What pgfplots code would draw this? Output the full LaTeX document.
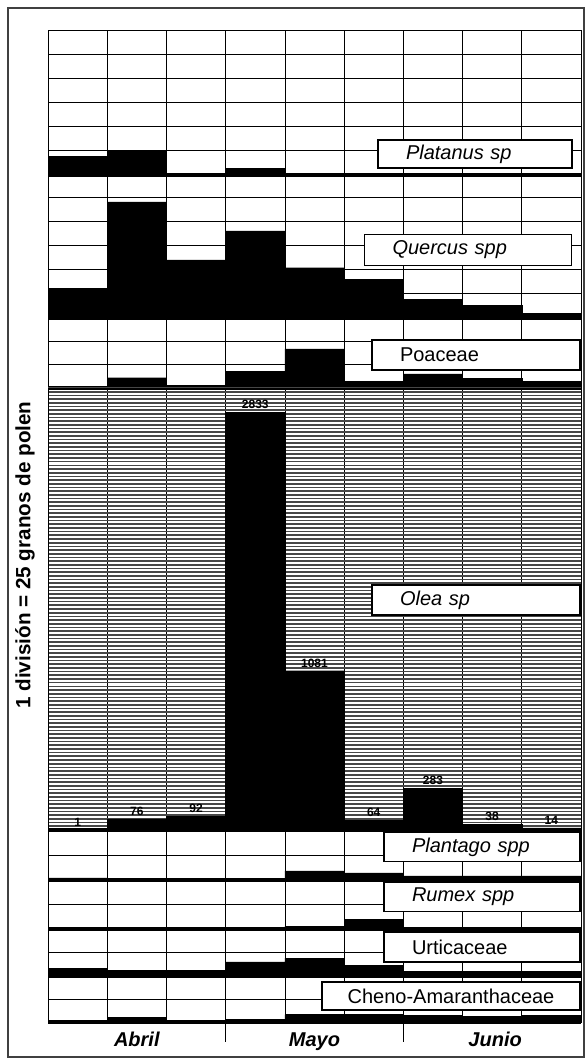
\documentclass[border=0pt]{standalone}
\usepackage{pgfplots}
\pgfplotsset{compat=1.18}
\usepackage{fontspec}
\setmainfont{Liberation Sans}
\tikzset{lbl/.style={draw=black, fill=white, line width=0.8pt, inner xsep=0pt, inner ysep=0pt,
   align=left, font=\fontsize{15}{17}\selectfont},
   month/.style={font=\fontsize{15}{17}\bfseries\itshape\selectfont, anchor=base, yshift=-18.5pt}}
\pgfplotsset{
 panel/.style={scale only axis, width=399.75pt, xmin=0, xmax=9, ymin=0,
   enlargelimits=false, xtick={0,...,9}, xticklabels={}, yticklabels={},
   major tick length=0pt, grid=major,
   major grid style={line width=0.5pt, black},
   axis line style={line width=0.6pt},
   anchor=south west, clip=false,
   after end axis/.code={\draw[line width=2.4pt] (rel axis cs:0,0) -- (rel axis cs:1,0);}},
 bars/.style={ybar interval, fill=black, draw=black, line width=0.3pt},
}
\begin{document}
\begin{tikzpicture}
\useasboundingbox (0pt,0pt) rectangle (438.75pt,795pt);
\fill[white] (0pt,0pt) rectangle (438.75pt,795pt);
% Platanus
\begin{axis}[panel, at={(36pt,663.75pt)}, height=108.75pt, ymax=150, ytick={0,25,...,150}]
\addplot[bars] coordinates {(0,19) (1,25) (2,0) (3,7) (4,0) (5,0) (6,0) (7,0) (8,0) (9,0)};
\end{axis}
% Quercus
\begin{axis}[panel, at={(36pt,556.5pt)}, height=108.75pt, ymax=150, ytick={0,25,...,150}]
\addplot[bars] coordinates {(0,31) (1,120) (2,60) (3,90) (4,52) (5,40) (6,19) (7,13) (8,5) (9,5)};
\end{axis}
% Poaceae
\begin{axis}[panel, at={(36pt,504pt)}, height=52.5pt, ymax=75, ytick={0,25,...,75}]
\addplot[bars] coordinates {(0,0) (1,11) (2,3) (3,18) (4,42) (5,7) (6,15) (7,10) (8,7) (9,7)};
\end{axis}
% Olea
\begin{axis}[panel, at={(36pt,172.5pt)}, height=331.5pt, ymax=3000, ytick={0,25,...,3000},
   y grid style={line width=1.25pt, black!72}]
\addplot[bars] coordinates {(0,1) (1,76) (2,92) (3,2833) (4,1081) (5,64) (6,283) (7,38) (8,14) (9,14)};
\addplot[draw=none, mark=none, nodes near coords, point meta=explicit symbolic,
   nodes near coords style={font=\fontsize{9}{9}\bfseries\selectfont, anchor=south, inner sep=2.5pt}]
   coordinates {(0.5,1)[1] (1.5,76)[76] (2.5,92)[92] (3.5,2833)[2833] (4.5,1081)[1081]
                (5.5,64)[64] (6.5,283)[283] (7.5,38)[38] (8.5,14)[14]};
\end{axis}
% Plantago
\begin{axis}[panel, at={(36pt,135pt)}, height=37.5pt, ymax=50, ytick={0,25,50}]
\addplot[bars] coordinates {(0,2) (1,0) (2,0) (3,0) (4,9) (5,7) (6,4) (7,4) (8,4) (9,4)};
\end{axis}
% Rumex
\begin{axis}[panel, at={(36pt,98.25pt)}, height=36.75pt, ymax=50, ytick={0,25,50}]
\addplot[bars] coordinates {(0,0) (1,0) (2,0) (3,1) (4,3) (5,10) (6,1) (7,1) (8,1) (9,1)};
\end{axis}
% Urticaceae
\begin{axis}[panel, at={(36pt,63pt)}, height=35.25pt, ymax=50, ytick={0,25,50}]
\addplot[bars] coordinates {(0,8) (1,6) (2,6) (3,15) (4,19) (5,11) (6,5) (7,5) (8,5) (9,5)};
\end{axis}
% Cheno-Amaranthaceae
\begin{axis}[panel, at={(36pt,28.5pt)}, height=34.5pt, ymax=50, ytick={0,25,50},
   after end axis/.append code={
     \draw[line width=0.5pt] (axis cs:3,0) -- ++(0pt,-15pt);
     \draw[line width=0.5pt] (axis cs:6,0) -- ++(0pt,-15pt);
     \node[month] at (axis cs:1.5,0) {Abril};
     \node[month] at (axis cs:4.5,0) {Mayo};
     \node[month] at (axis cs:7.55,0) {Junio};
   }]
\addplot[bars] coordinates {(0,0) (1,5) (2,2) (3,3) (4,8) (5,8) (6,7) (7,6) (8,7) (9,7)};
\end{axis}
% labels
\node[lbl, text width=145.5pt, minimum height=21pt] at (356.25pt,679.5pt) {\hspace*{21pt}\itshape Platanus sp};
\node[lbl, text width=155.25pt, minimum height=23.25pt] at (351pt,607.5pt) {\hspace*{21pt}\itshape Quercus spp};
\node[lbl, text width=156pt, minimum height=22.5pt] at (357pt,528.75pt) {\hspace*{21pt}Poaceae};
\node[lbl, text width=156pt, minimum height=22.5pt] at (357pt,345pt) {\hspace*{21pt}\itshape Olea sp};
\node[lbl, text width=147pt, minimum height=21.75pt] at (361.5pt,159.75pt) {\hspace*{21pt}\itshape Plantago spp};
\node[lbl, text width=147pt, minimum height=21.75pt] at (361.5pt,122.25pt) {\hspace*{21pt}\itshape Rumex spp};
\node[lbl, text width=147pt, minimum height=22.5pt] at (361.5pt,84.75pt) {\hspace*{21pt}Urticaceae};
\node[lbl, text width=193.5pt, minimum height=21pt, align=center] at (338.25pt,48pt) {Cheno-Amaranthaceae};
% y label
\node[rotate=90, font=\fontsize{15.5}{18}\bfseries\selectfont] at (18.75pt,378.75pt) {1 división = 25 granos de polen};
% frame
\draw[line width=1.4pt, black!75] (6pt,2.5pt) rectangle (438pt,789pt);
\end{tikzpicture}
\end{document}
